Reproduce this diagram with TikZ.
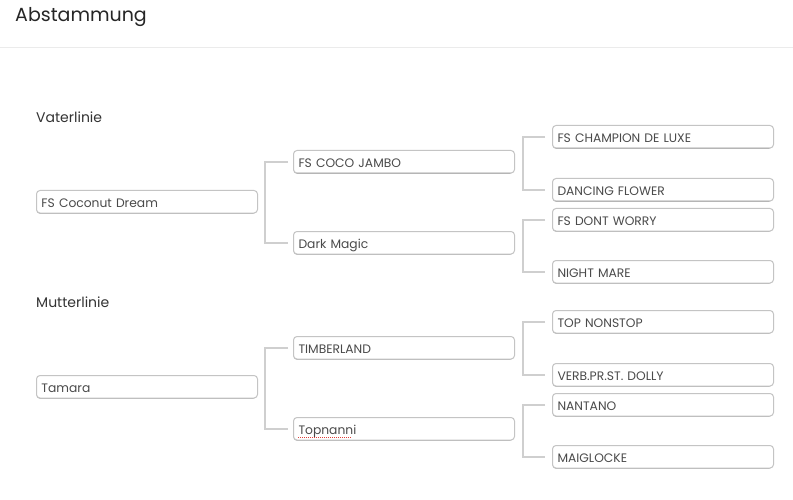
\documentclass[tikz,border=0pt]{standalone}
\usepackage{fontspec}
\setmainfont{Poppins}
\usetikzlibrary{calc}
\definecolor{txt}{HTML}{4A4A4A}
\definecolor{boxline}{HTML}{C4C4C4}
\definecolor{shadowc}{HTML}{ADADAD}
\definecolor{brline}{HTML}{CFCFCF}
\definecolor{sep}{HTML}{EBEBEB}
\definecolor{spell}{HTML}{E0403A}
\tikzset{
  box/.style={draw=boxline, line width=1pt, rounded corners=3.5pt, fill=white,
    minimum width=221pt, minimum height=22.5pt, text width=211pt, align=left,
    inner xsep=4.5pt, inner ysep=0pt, anchor=north west, font=\fontsize{12.3}{14}\selectfont,
    text=txt, text height=12pt, text depth=0pt},
  br/.style={draw=brline, line width=2pt},
  heading/.style={anchor=west, font=\fontsize{14}{16}\selectfont, text=black!80, inner sep=0pt},
  shadowbox/.style={fill=shadowc, rounded corners=3.5pt, draw=none}
}
\newcommand{\pedbox}[4]{%
  \fill[shadowbox] (#2+0.5,#3+1.3) rectangle ++(220,22.5);
  \node[box] (#1) at (#2,#3) {#4};
}
\begin{document}
\begin{tikzpicture}[x=1pt,y=-1pt]
\useasboundingbox (0,0) rectangle (793,500);
\fill[white] (0,0) rectangle (793,500);
\node[anchor=west, font=\fontsize{19}{21}\selectfont, text=black!85, inner sep=0pt] (title) at (15,17) {Abstammung};
\coordinate (sepL) at (0,47.5);
\coordinate (sepR) at (793,47.5);
\draw[sep, line width=1pt] (sepL) -- (sepR);

\node[heading] (vater) at (36,117) {Vaterlinie};
\node[heading] (mutter) at (36,302) {Mutterlinie};

% generation 1
\pedbox{g1a}{36}{190}{FS Coconut Dream}
\pedbox{g1b}{36}{375}{Tamara}
% generation 2
\pedbox{g2a}{293}{150}{FS COCO JAMBO}
\pedbox{g2b}{293}{231}{Dark Magic}
\pedbox{g2c}{293}{336}{TIMBERLAND}
\pedbox{g2d}{293}{417}{Topnanni}
% generation 3
\pedbox{g3a}{552}{125}{FS CHAMPION DE LUXE}
\pedbox{g3b}{552}{178}{DANCING FLOWER}
\pedbox{g3c}{552}{208}{FS DONT WORRY}
\pedbox{g3d}{552}{260}{NIGHT MARE}
\pedbox{g3e}{552}{310}{TOP NONSTOP}
\pedbox{g3f}{552}{363}{VERB.PR.ST. DOLLY}
\pedbox{g3g}{552}{393}{NANTANO}
\pedbox{g3h}{552}{445}{MAIGLOCKE}

% spell-check underline
\draw[spell, line width=1pt, dash pattern=on 1pt off 1pt] ([xshift=5pt, yshift=-9pt]g2d.west) -- ++(54,0);

% brackets
\draw[br] ([xshift=-5pt]g2a.west) -- ++(-23,0) |- ([xshift=-5pt]g2b.west);
\draw[br] ([xshift=-5pt]g2c.west) -- ++(-23,0) |- ([xshift=-5pt]g2d.west);
\draw[br] ([xshift=-7pt]g3a.west) -- ++(-22,0) |- ([xshift=-7pt]g3b.west);
\draw[br] ([xshift=-7pt]g3c.west) -- ++(-22,0) |- ([xshift=-7pt]g3d.west);
\draw[br] ([xshift=-7pt]g3e.west) -- ++(-22,0) |- ([xshift=-7pt]g3f.west);
\draw[br] ([xshift=-7pt]g3g.west) -- ++(-22,0) |- ([xshift=-7pt]g3h.west);
\end{tikzpicture}
\end{document}
